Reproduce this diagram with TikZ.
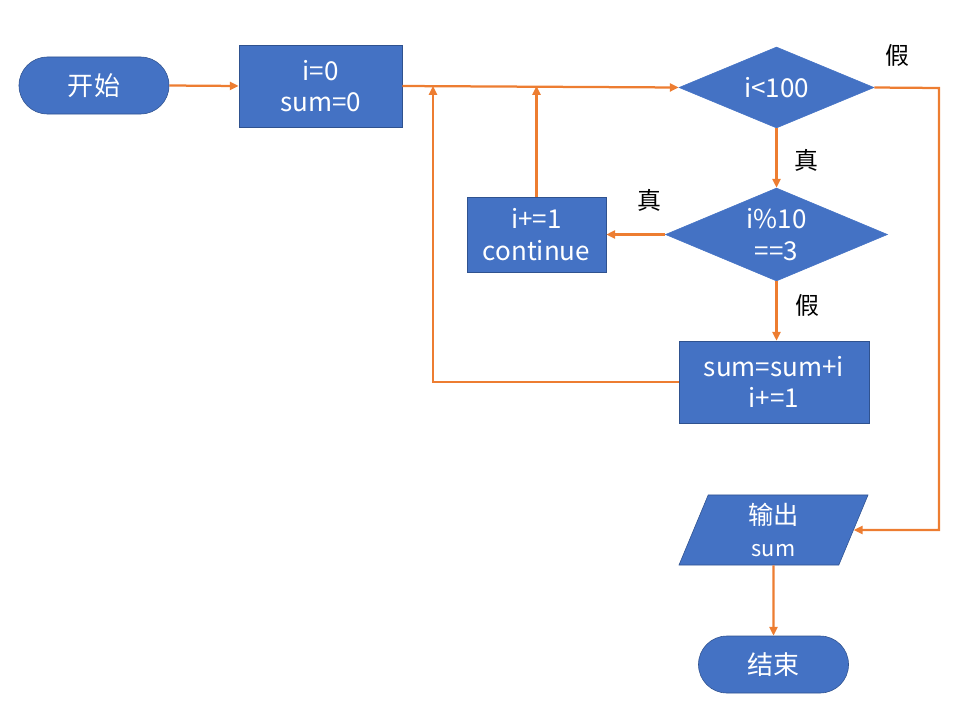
\documentclass[tikz,border=0pt]{standalone}
\usepackage{fontspec}
\setmainfont{Noto Sans CJK SC}
\usepackage{tikz}
\usetikzlibrary{arrows.meta,positioning,shapes.geometric,calc}
\definecolor{boxblue}{HTML}{4472C4}
\definecolor{boxedge}{HTML}{2F528F}
\definecolor{flow}{HTML}{ED7D31}

\begin{document}
\begin{tikzpicture}[x=0.025cm,y=-0.025cm,
  every node/.style={font=\fontsize{18.5}{22.5}\selectfont},
  term/.style={draw=boxedge,fill=boxblue,text=white,rounded corners=0.71cm,
    minimum width=3.75cm,minimum height=1.425cm},
  proc/.style={draw=boxedge,fill=boxblue,text=white,align=center},
  dec/.style={diamond,aspect=2.4,draw=boxblue,fill=boxblue,text=white,
    align=center,inner sep=0pt},
  io/.style={trapezium,trapezium left angle=65,trapezium right angle=115,
    trapezium stretches body,draw=boxedge,fill=boxblue,text=white,align=center},
  lab/.style={font=\fontsize{17}{20}\selectfont},
  arr/.style={draw=flow,line width=1.6pt,-{Triangle[length=0.22cm,width=0.2cm]}}]
  \useasboundingbox (0,0) rectangle (980,718);

  % Blocks
  \node[term] (start) at (94,85.5) {开始};
  \node[proc,minimum width=4.075cm,minimum height=2.05cm] (init) at (320.5,86) {i=0\\sum=0};
  \node[dec,minimum width=4.875cm,minimum height=2.025cm] (cond) at (776.5,87.5) {i<100};
  \node[dec,minimum width=5.55cm,minimum height=2.325cm] (skip) at (776.5,234.5) {i\%10\\==3};
  \node[proc,minimum width=3.475cm,minimum height=1.875cm] (cont) at (536.5,234.5) {i+=1\\continue};
  \node[proc,minimum width=4.75cm,minimum height=2.05cm] (calc) at (774,382) {sum=sum+i\\i+=1};
  \node[io,minimum width=4.725cm,minimum height=1.75cm] (out) at (773.5,530)
    {{\fontsize{18}{22}\selectfont 输出}\\{\fontsize{15.5}{20}\selectfont sum}};
  \node[term] (stop) at (773.5,664.5) {结束};

  % Branch labels
  \node[lab] (f1) at (897,55) {假};
  \node[lab] (t1) at (806,160) {真};
  \node[lab] (t2) at (649,200) {真};
  \node[lab] (f2) at (807,305) {假};

  % Flow
  \coordinate (back) at (433,86);
  \coordinate (fr) at (939,88);
  \draw[arr] (start.east) -- (init.west);
  \draw[arr] (init.east) -- (cond.west);
  \draw[arr] (cond.south) -- (skip.north);
  \draw[arr] (skip.west) -- (cont.east);
  \draw[arr] (skip.south) -- (skip.south |- calc.north);
  \draw[arr] (cont.north) -- (cont.north |- init.east);
  \draw[arr] (calc.west) -| (back);
  \draw[arr] (cond.east) -- (fr) |- (out.east);
  \draw[arr] (out.south) -- (stop.north);
\end{tikzpicture}
\end{document}
